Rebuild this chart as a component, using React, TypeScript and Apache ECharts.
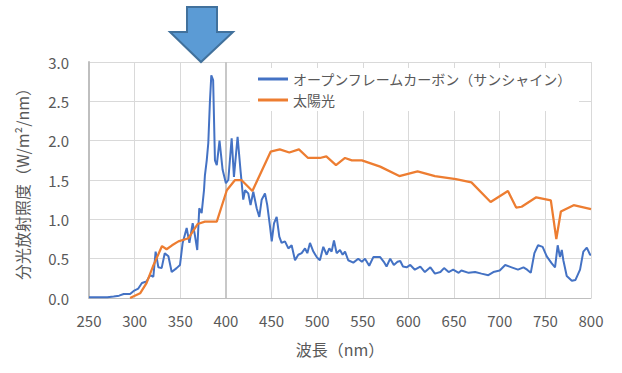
import React, { useEffect, useRef } from "react";
import * as echarts from "echarts";

const seriesNames = ["オープンフレームカーボン（サンシャイン）", "太陽光"];

const carbonNm = [250, 260, 270, 277, 283, 288, 295, 299, 304, 308, 313, 317, 320.5, 323, 326, 329.6, 333, 337, 340.6, 346, 349.7, 352.6, 357, 360, 363.6, 366, 368.6, 370.8, 373.4, 376, 377, 379, 380.7, 382.5, 384, 386, 388, 390, 393, 396.4, 400, 402.6, 406.3, 408.8, 412.8, 416.1, 419, 421, 424.5, 427, 430, 433.7, 436.6, 439.2, 442.8, 445.3, 448.3, 450.2, 452.7, 455.6, 458.5, 461, 464.7, 468.4, 472, 475.7, 479.3, 483, 486.7, 489.2, 492.1, 495.8, 499.5, 503, 506.7, 510.4, 513.3, 515.8, 518.4, 521.3, 525, 527.9, 530.5, 534, 539.6, 545, 549, 552.4, 557, 561.5, 569, 573, 576, 580, 584, 588, 591, 594, 598, 602, 607, 613, 618, 624, 629, 635, 639, 644, 649, 655, 658, 666, 673, 680, 687.5, 693, 700, 706, 713, 720, 726, 730, 734, 738, 742, 747, 751.5, 757, 760.6, 763.5, 766, 768, 769.7, 773.4, 779, 783, 788, 791.6, 795.4, 799, 800];
const carbonVal = [0.01, 0.01, 0.01, 0.02, 0.03, 0.05, 0.05, 0.09, 0.12, 0.19, 0.21, 0.29, 0.27, 0.59, 0.39, 0.38, 0.57, 0.53, 0.33, 0.38, 0.42, 0.70, 0.89, 0.70, 0.95, 0.80, 0.61, 1.14, 1.08, 1.37, 1.56, 1.75, 1.97, 2.5, 2.83, 2.77, 1.75, 1.69, 2.0, 1.63, 1.46, 1.50, 2.03, 1.54, 2.05, 1.61, 1.25, 1.37, 1.33, 1.18, 1.35, 1.14, 1.03, 1.25, 1.33, 1.18, 0.91, 0.72, 0.95, 1.03, 0.78, 0.70, 0.72, 0.63, 0.67, 0.48, 0.55, 0.57, 0.63, 0.57, 0.70, 0.59, 0.52, 0.48, 0.65, 0.55, 0.63, 0.59, 0.73, 0.57, 0.61, 0.55, 0.59, 0.48, 0.45, 0.50, 0.46, 0.50, 0.41, 0.52, 0.52, 0.46, 0.40, 0.50, 0.42, 0.46, 0.47, 0.40, 0.39, 0.42, 0.36, 0.40, 0.33, 0.39, 0.31, 0.33, 0.38, 0.33, 0.36, 0.32, 0.35, 0.32, 0.33, 0.31, 0.29, 0.33, 0.35, 0.42, 0.39, 0.36, 0.39, 0.36, 0.32, 0.57, 0.67, 0.65, 0.53, 0.44, 0.39, 0.67, 0.52, 0.61, 0.48, 0.28, 0.22, 0.23, 0.36, 0.59, 0.64, 0.55, 0.55];

const solarNm = [295, 306, 313, 320, 330, 335, 341, 348, 359, 369, 377, 390, 401, 410, 417, 429, 449, 459, 469.5, 480, 490, 503, 510, 520.6, 530.5, 538, 549, 569, 590, 610, 629, 652, 669, 690, 709, 718, 724, 740, 756, 762, 767, 781, 800];
const solarVal = [0, 0.06, 0.19, 0.40, 0.66, 0.62, 0.67, 0.72, 0.76, 0.94, 0.97, 0.97, 1.37, 1.50, 1.50, 1.36, 1.86, 1.89, 1.85, 1.89, 1.78, 1.78, 1.80, 1.69, 1.78, 1.75, 1.75, 1.67, 1.55, 1.61, 1.55, 1.51, 1.47, 1.22, 1.36, 1.15, 1.16, 1.28, 1.24, 0.75, 1.10, 1.18, 1.13];

const xMin = 250, xMax = 800, xStep = 50;
const yMin = 0, yMax = 3, yStep = 0.5;
const markWavelength = 400;

const FONT = "'Noto Sans CJK JP', 'Noto Sans', sans-serif";

export default function App() {
  const ref = useRef<HTMLDivElement>(null);
  useEffect(() => {
    if (!ref.current) return;
    const chart = echarts.init(ref.current, undefined, { renderer: "svg" });
    const carbon = carbonNm.map((x, i) => [x, carbonVal[i]]);
    const solar = solarNm.map((x, i) => [x, solarVal[i]]);
    chart.setOption({
      animation: false,
      backgroundColor: "#ffffff",
      textStyle: { fontFamily: FONT },
      grid: { left: 89, right: 31, top: 62, bottom: 75 },
      legend: {
        orient: "vertical",
        left: 250,
        top: 68,
        padding: [4, 6, 4, 8],
        backgroundColor: "#ffffff",
        itemWidth: 30,
        itemHeight: 3,
        itemGap: 7,
        icon: "rect",
        textStyle: { fontSize: 14, color: "#595959", fontFamily: FONT },
        data: seriesNames,
      },
      xAxis: {
        type: "value",
        min: xMin,
        max: xMax,
        interval: xStep,
        name: "波長（nm）",
        nameLocation: "middle",
        nameGap: 43,
        nameTextStyle: { fontSize: 16, color: "#595959", fontFamily: FONT },
        axisLine: { show: true, lineStyle: { color: "#bfbfbf", width: 1 } },
        axisTick: { show: false },
        axisLabel: { fontSize: 15, color: "#595959", margin: 15, fontFamily: FONT },
        splitLine: { show: true, lineStyle: { color: "#d9d9d9", width: 1 } },
      },
      yAxis: {
        type: "value",
        min: yMin,
        max: yMax,
        interval: yStep,
        name: "分光放射照度（W/m²/nm）",
        nameLocation: "middle",
        nameGap: 59,
        nameRotate: 90,
        nameTextStyle: { fontSize: 16, color: "#595959", fontFamily: FONT },
        axisLine: { show: true, lineStyle: { color: "#bfbfbf", width: 2 } },
        axisTick: { show: false },
        axisLabel: {
          fontSize: 15,
          color: "#595959",
          margin: 20,
          fontFamily: FONT,
          formatter: (v: number) => v.toFixed(1),
        },
        splitLine: { show: true, lineStyle: { color: "#d9d9d9", width: 1 } },
      },
      series: [
        {
          name: seriesNames[0],
          type: "line",
          data: carbon,
          showSymbol: false,
          symbol: "none",
          lineStyle: { color: "#4472C4", width: 2 },
          itemStyle: { color: "#4472C4" },
          z: 3,
          markLine: {
            silent: true,
            symbol: "none",
            label: { show: false },
            lineStyle: { color: "#c8c8c8", width: 2, type: "solid" },
            data: [{ xAxis: markWavelength }],
            z: 1,
          },
        },
        {
          name: seriesNames[1],
          type: "line",
          data: solar,
          showSymbol: false,
          symbol: "none",
          lineStyle: { color: "#ED7D31", width: 2.25 },
          itemStyle: { color: "#ED7D31" },
          z: 4,
        },
      ],
      graphic: [
        {
          type: "polygon",
          shape: {
            points: [
              [187, 7],
              [217, 7],
              [217, 32],
              [233, 32],
              [201, 62],
              [170, 32],
              [187, 32],
            ],
          },
          style: { fill: "#5B9BD5", stroke: "#41719C", lineWidth: 2 },
          z: 10,
        },
      ],
    });
    return () => chart.dispose();
  }, []);
  return <div ref={ref} style={{ width: 622, height: 373, position: "absolute", left: 0, top: 0 }} />;
}
